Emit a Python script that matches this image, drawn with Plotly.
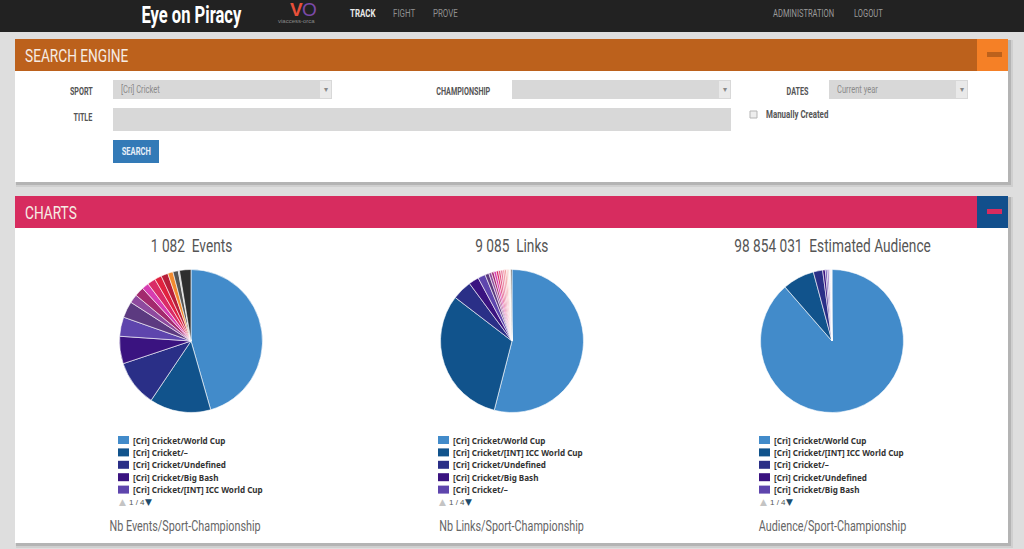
import plotly.graph_objects as go

W, H = 1024, 549

# first page of the legend, then slices that have no readable name
events_labels = ['[Cri] Cricket/World Cup', '[Cri] Cricket/–', '[Cri] Cricket/Undefined',
                 '[Cri] Cricket/Big Bash', '[Cri] Cricket/[INT] ICC World Cup'] + ['Other %d' % i for i in range(1, 12)]
events_values = [493, 150, 113, 67, 47, 40, 21, 23, 17, 20, 17, 17, 13, 13, 3, 28]
events_colors = ['#428bca', '#11538c', '#2a2f87', '#3a1380', '#5e45ad', '#5c3a80', '#8e4a9e', '#a32a6e',
                 '#d63cb0', '#d92b66', '#e0223f', '#b71f3a', '#f28b30', '#555555', '#aaaaaa', '#2e2e2e']

links_labels = ['[Cri] Cricket/World Cup', '[Cri] Cricket/[INT] ICC World Cup', '[Cri] Cricket/Undefined',
                '[Cri] Cricket/Big Bash', '[Cri] Cricket/–'] + ['Other %d' % i for i in range(1, 15)]
links_values = [4906, 2853, 405, 209, 154, 80, 55, 50, 50, 45, 45, 45, 40, 35, 30, 30, 18, 15, 20]
links_colors = ['#428bca', '#11538c', '#2a2f87', '#3a1380', '#5e45ad', '#5c3a80', '#8e4a9e', '#a32a6e',
                '#d63cb0', '#d92b66', '#e0527f', '#e87a9a', '#ef8fa0', '#f28b8b', '#f5b5b5', '#f8d8cc',
                '#f5ead8', '#999999', '#222222']

audience_labels = ['[Cri] Cricket/World Cup', '[Cri] Cricket/[INT] ICC World Cup', '[Cri] Cricket/–',
                   '[Cri] Cricket/Undefined', '[Cri] Cricket/Big Bash'] + ['Other %d' % i for i in range(1, 5)]
audience_values = [87585000, 7118000, 2076000, 590000, 400000, 420000, 300000, 200000, 165031]
audience_colors = ['#428bca', '#11538c', '#2a2f87', '#3a1380', '#5e45ad', '#9a7cc8', '#d8c8e8', '#ece6f2', '#f4eff0']

chart_titles = ['1 082  Events', '9 085  Links', '98 854 031  Estimated Audience']
chart_footers = ['Nb Events/Sport-Championship', 'Nb Links/Sport-Championship', 'Audience/Sport-Championship']
pager_text = '1 / 4'

NARROW = 'Roboto'  # squeezed horizontally in the page, see POST
BOLD = 'Noto Sans'

# drop the body margin and narrow the Roboto texts, no condensed font is installed
POST = """
document.body.style.margin = 0;
document.body.style.overflow = 'hidden';
var gd = document.getElementById('{plot_id}');
gd.querySelectorAll('g.annotation').forEach(function (g) {
  var a = gd.layout.annotations[+g.getAttribute('data-index')];
  var t = g.querySelector('text.annotation-text');
  if (!t.style.fontFamily.includes('Roboto')) return;
  var b = t.getBBox();
  var x = a.xanchor == 'left' ? b.x : a.xanchor == 'right' ? b.x + b.width : b.x + b.width / 2;
  t.setAttribute('transform', 'translate(' + x + ' 0) scale(0.72 1) translate(' + -x + ' 0)');
});
"""


def px(x):
    return x / W


def py(y):
    return 1 - y / H


shapes = []
annotations = []


def box(x0, y0, x1, y1, color, line=None):
    shapes.append(dict(type='rect', xref='paper', yref='paper', x0=px(x0), x1=px(x1), y0=py(y0), y1=py(y1),
                       fillcolor=color, line=dict(width=1 if line else 0, color=line or color), layer='below'))


def text(x, y, s, size, color, font=NARROW, anchor='left', bold=False):
    annotations.append(dict(x=px(x), y=py(y), xref='paper', yref='paper', text='<b>%s</b>' % s if bold else s,
                            showarrow=False, xanchor=anchor, yanchor='middle', borderpad=0,
                            font=dict(family=font, size=size, color=color)))


# page, nav bar
box(0, 0, W, H, '#dedede')
box(0, 0, W, 32, '#222222')
text(191, 15, 'Eye on Piracy', 23, '#ffffff', anchor='center', bold=True)
text(296, 9, 'V', 19, '#e8503a', font='Liberation Sans', anchor='center', bold=True)
text(309, 9, 'O', 19, '#7b4aa8', font='Liberation Sans', anchor='center')
text(296, 21, 'viaccess-orca', 6, '#8a8a8a', font='Liberation Sans', anchor='center')
text(349, 14, 'TRACK', 11, '#e8e8e8', bold=True)
text(392, 14, 'FIGHT', 11, '#8f8f8f')
text(432, 14, 'PROVE', 11, '#8f8f8f')
text(772, 14, 'ADMINISTRATION', 10.5, '#9a9a9a')
text(853, 14, 'LOGOUT', 10.5, '#9a9a9a')

# panels with a soft shadow
for top, bottom, head, btn, dash, title in [(39, 182, '#bc611c', '#f58026', '#bc611c', 'SEARCH ENGINE'),
                                            (196, 543, '#d72c5f', '#124f8c', '#d72c5f', 'CHARTS')]:
    box(16, top + 1, 1013, bottom + 5, '#cfcfcf')
    box(16, top + 1, 1011, bottom + 3, '#b4b4b4')
    box(15, top, 1008, bottom, '#ffffff')
    box(15, top, 1008, top + 32, head)
    box(977, top, 1008, top + 32, btn)
    box(987, top + 13, 1002, top + 18, dash)
    text(24, top + 16, title, 19, '#f6ece4')

# search form
for x, y, s in [(94, 91, 'SPORT'), (94, 118, 'TITLE'), (492, 91, 'CHAMPIONSHIP'), (810, 91, 'DATES')]:
    text(x, y, s, 10, '#555555', anchor='right', bold=True)
for x0, x1 in [(113, 332), (512, 731), (829, 968)]:
    box(x0, 80, x1, 99, '#d8d8d8')
    box(x1 - 12, 81, x1 - 1, 98, '#e9e9e9')
    text(x1 - 6.5, 89.5, '▾', 8, '#888888', font='DejaVu Sans', anchor='center')
text(120, 89.5, '[Cri] Cricket', 10.5, '#8a8a8a')
text(836, 89.5, 'Current year', 10.5, '#8a8a8a')
box(113, 108, 731, 131, '#d8d8d8')
box(750, 111, 757, 118, '#eeeeee', line='#b5b5b5')
text(765, 115, 'Manually Created', 11, '#555555', bold=True)
box(113, 140, 159, 163, '#337ab7')
text(136, 151.5, 'SEARCH', 10.5, '#e8f0f8', anchor='center', bold=True)

# pies
pies = [(191, events_labels, events_values, events_colors, 118, 184.5),
        (512, links_labels, links_values, links_colors, 438, 511),
        (832, audience_labels, audience_values, audience_colors, 759, 832)]
R = 71.5
CY = 341
fig = go.Figure()
for i, (cx, labels, values, colors, leg_x, foot_x) in enumerate(pies):
    fig.add_trace(go.Pie(labels=labels, values=values, sort=False, direction='clockwise', rotation=0,
                         textinfo='none', showlegend=False, hoverinfo='label+value+percent',
                         marker=dict(colors=colors, line=dict(color='#ffffff', width=0.6)),
                         domain=dict(x=[px(cx - R), px(cx + R)], y=[py(CY + R), py(CY - R)])))
    text(cx, 245, chart_titles[i], 19, '#555555', anchor='center')
    for row in range(5):
        y = 440 + row * 12.4
        box(leg_x, y - 4, leg_x + 11, y + 4, colors[row])
        text(leg_x + 14, y, labels[row], 8.1, '#333333', font=BOLD, bold=True)
    text(leg_x + 4, 502, '▲', 9, '#c4c4c4', font='DejaVu Sans', anchor='center')
    text(leg_x + 10, 502, pager_text, 8, '#555555', font='Liberation Sans')
    text(leg_x + 30, 502, '▼', 9, '#1d4d6e', font='DejaVu Sans', anchor='center')
    text(foot_x, 526, chart_footers[i], 15, '#666666', anchor='center')

fig.update_layout(width=W, height=H, margin=dict(l=0, r=0, t=0, b=0), autosize=False,
                  paper_bgcolor='#dedede', plot_bgcolor='#dedede',
                  shapes=shapes, annotations=annotations)

fig.write_html("out.html", post_script=POST, config={'displayModeBar': False})
